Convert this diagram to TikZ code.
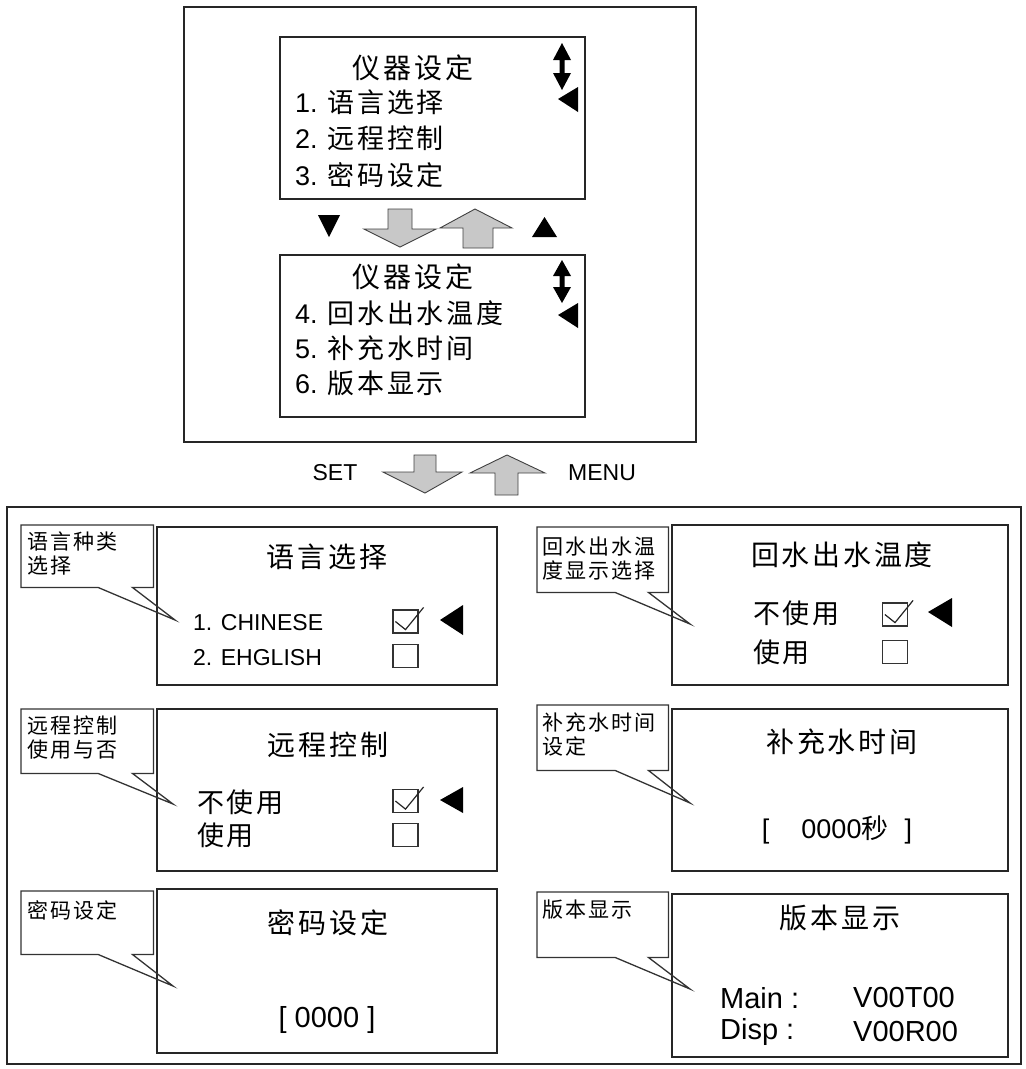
\documentclass[tikz,border=0pt]{standalone}
\usepackage{fontspec}
\setmainfont{Liberation Sans}
\newfontfamily\cjk[LetterSpace=10]{Noto Sans CJK SC}
\usepackage{xcolor}
\usepackage{tikz}
\usetikzlibrary{calc}

\definecolor{arrowgray}{RGB}{200,200,200}

\begin{document}
\begin{tikzpicture}[
    x=1pt, y=-1pt,
    outerframe/.style={
        draw=black!85,
        line width=1.8pt,
        inner sep=0pt
    },
    screen/.style={
        draw=black!85,
        line width=2pt,
        inner sep=0pt
    },
    scrtitle/.style={
        font=\fontsize{28}{32}\selectfont\cjk,
        inner sep=0pt
    },
    scritem/.style={
        font=\fontsize{27}{32}\selectfont,
        anchor=west,
        inner sep=0pt
    },
    latinitem/.style={
        font=\fontsize{23}{28}\selectfont,
        anchor=west,
        inner sep=0pt
    },
    cnitem/.style={
        font=\fontsize{27}{32}\selectfont\cjk,
        anchor=west,
        inner sep=0pt
    },
    readout/.style={
        font=\fontsize{29}{34}\selectfont,
        inner sep=0pt
    },
    keylabel/.style={
        font=\fontsize{23}{28}\selectfont,
        inner sep=0pt
    },
    tipbox/.style={
        inner sep=0pt,
        anchor=north west
    },
    tiptext/.style={
        font=\fontsize{21}{24}\selectfont\cjk,
        align=left,
        anchor=north west,
        inner sep=0pt
    },
    bubble/.style={
        draw=black!80,
        line width=1.3pt
    },
    chkbox/.style={
        draw=black!80,
        line width=1.2pt,
        minimum width=25pt,
        minimum height=23pt,
        inner sep=0pt
    },
    tick/.style={
        draw=black!85,
        line width=1.2pt
    },
    blockarrow/.style={
        fill=arrowgray,
        draw=black!75,
        line width=0.9pt
    }
]
\useasboundingbox (0,0) rectangle (1026,1069);

% =========================================================
% menu pages
% =========================================================
\node[outerframe, minimum width=512pt, minimum height=435pt] (menuframe) at (440,224.5) {};

\node[screen, minimum width=305pt, minimum height=162pt] (scrA) at (432.5,118) {};
\node[scrtitle] (scrAhead) at (413,68) {仪器设定};
\node[scritem] (scrA1) at (295,102) {1. {\cjk 语言选择}};
\node[scritem] (scrA2) at (295,138) {2. {\cjk 远程控制}};
\node[scritem] (scrA3) at (295,175) {3. {\cjk 密码设定}};

\node[screen, minimum width=305pt, minimum height=162pt] (scrB) at (432.5,336) {};
\node[scrtitle] (scrBhead) at (413,277) {仪器设定};
\node[scritem] (scrB4) at (295,313) {4. {\cjk 回水出水温度}};
\node[scritem] (scrB5) at (295,348) {5. {\cjk 补充水时间}};
\node[scritem] (scrB6) at (295,383) {6. {\cjk 版本显示}};

% scroll marks and cursors
\coordinate (scrAupdn) at (562,43);
\coordinate (scrBupdn) at (562,260);
\fill (scrAupdn) -- ++(9,17) -- ++(-6.5,0) -- ++(0,13) -- ++(6.5,0) -- ++(-9,17) -- ++(-9,-17) -- ++(6.5,0) -- ++(0,-13) -- ++(-6.5,0) -- cycle;
\fill (scrBupdn) -- ++(9,16) -- ++(-6.5,0) -- ++(0,11) -- ++(6.5,0) -- ++(-9,16) -- ++(-9,-16) -- ++(6.5,0) -- ++(0,-11) -- ++(-6.5,0) -- cycle;
\coordinate (scrAcur) at (558,99);
\coordinate (scrBcur) at (558,315);
\fill (scrAcur) -- ++(20,-12) -- ++(0,25) -- cycle;
\fill (scrBcur) -- ++(20,-12) -- ++(0,25) -- cycle;

% page keys
\fill (318,215) -- (340,215) -- (329,237) -- cycle;
\fill (532,237) -- (557,237) -- (544.5,217) -- cycle;
\draw[blockarrow, shift={(400,209)}] (-12,0) -- (12,0) -- (12,20) -- (36,20) -- (0,38) -- (-36,20) -- (-12,20) -- cycle;
\draw[blockarrow, shift={(478,248)}] (-15,0) -- (15,0) -- (15,-20) -- (34,-20) -- (-3,-39) -- (-38,-20) -- (-15,-20) -- cycle;

% =========================================================
% SET / MENU
% =========================================================
\node[keylabel] (setkey) at (335,473) {SET};
\node[keylabel] (menukey) at (602,473) {MENU};
\draw[blockarrow, shift={(425,455)}] (-11,0) -- (11,0) -- (11,17) -- (37,17) -- (0,38) -- (-42,17) -- (-11,17) -- cycle;
\draw[blockarrow, shift={(507,495)}] (-12,0) -- (11,0) -- (11,-22) -- (38,-22) -- (0,-40) -- (-37,-22) -- (-12,-22) -- cycle;

% =========================================================
% setting pages
% =========================================================
\node[outerframe, line width=1.5pt, minimum width=1014pt, minimum height=557pt] (panelframe) at (514,785.5) {};

% language
\node[screen, minimum width=340pt, minimum height=158pt] (langscr) at (327,606) {};
\node[scrtitle] (langhead) at (327,557) {语言选择};
\node[latinitem] (lang1) at (193,623) {1. CHINESE};
\node[latinitem] (lang2) at (193,658) {2. EHGLISH};
\node[chkbox] (langchk1) at (405.5,621.5) {};
\node[chkbox] (langchk2) at (405.5,656) {};
\draw[tick] ($(langchk1.west)+(3,0)$) -- ($(langchk1.south)+(0,-4)$) -- ($(langchk1.north east)+(5,-2)$);
\coordinate (langcur) at (440,620);
\fill (langcur) -- ++(23,-15) -- ++(0,30) -- cycle;

% remote control
\node[screen, minimum width=340pt, minimum height=162pt] (remotescr) at (327,790) {};
\node[scrtitle] (remotehead) at (328,745) {远程控制};
\node[cnitem] (remote1) at (197,802) {不使用};
\node[cnitem] (remote2) at (197,835) {使用};
\node[chkbox] (remotechk1) at (405.5,801) {};
\node[chkbox] (remotechk2) at (405.5,835) {};
\draw[tick] ($(remotechk1.west)+(3,0)$) -- ($(remotechk1.south)+(0,-4)$) -- ($(remotechk1.north east)+(5,-2)$);
\coordinate (remotecur) at (440,800);
\fill (remotecur) -- ++(23,-13) -- ++(0,26) -- cycle;

% password
\node[screen, minimum width=340pt, minimum height=164pt] (pwdscr) at (327,971) {};
\node[scrtitle] (pwdhead) at (328,923) {密码设定};
\node[readout] (pwdval) at (327,1020) {[ 0000 ]};

% water temperature
\node[screen, minimum width=336pt, minimum height=160pt] (tempscr) at (840,605) {};
\node[scrtitle] (temphead) at (842,555) {回水出水温度};
\node[cnitem] (temp1) at (753,613) {不使用};
\node[cnitem] (temp2) at (753,652) {使用};
\node[chkbox] (tempchk1) at (895,614.5) {};
\node[chkbox] (tempchk2) at (895,652) {};
\draw[tick] ($(tempchk1.west)+(3,0)$) -- ($(tempchk1.south)+(0,-4)$) -- ($(tempchk1.north east)+(5,-2)$);
\coordinate (tempcur) at (928,612);
\fill (tempcur) -- ++(24,-14) -- ++(0,29) -- cycle;

% refill time
\node[screen, minimum width=336pt, minimum height=162pt] (refillscr) at (840,790) {};
\node[scrtitle] (refillhead) at (842,742) {补充水时间};
\node[readout, font=\fontsize{27}{32}\selectfont] (refillval) at (837,830) {[\hspace{32pt}0000{\cjk 秒}\hspace{16pt}]};

% version
\node[screen, minimum width=336pt, minimum height=163pt] (verscr) at (840,975.5) {};
\node[scrtitle] (verhead) at (840,918) {版本显示};
\node[readout, anchor=west] (vermain) at (720,998) {Main :};
\node[readout, anchor=west] (vermainval) at (853,998) {V00T00};
\node[readout, anchor=west] (verdisp) at (720,1032) {Disp :};
\node[readout, anchor=west] (verdispval) at (853,1032) {V00R00};

% =========================================================
% callouts
% =========================================================
\node[tipbox, minimum width=132pt, minimum height=62pt] (langtipbox) at (21,525) {};
\node[tiptext] (langtiptext) at (27,532) {语言种类\\选择};
\coordinate (langtip) at (175,620);
\draw[bubble] (langtipbox.north west) -- (langtipbox.north east) -- (langtipbox.south east) -- ($(langtipbox.south east)+(-21,0)$) -- (langtip) -- ($(langtipbox.south west)+(77,0)$) -- (langtipbox.south west) -- cycle;

\node[tipbox, minimum width=132pt, minimum height=64pt] (remotetipbox) at (21,709) {};
\node[tiptext] (remotetiptext) at (27,716) {远程控制\\使用与否};
\coordinate (remotetip) at (173,804);
\draw[bubble] (remotetipbox.north west) -- (remotetipbox.north east) -- (remotetipbox.south east) -- ($(remotetipbox.south east)+(-21,0)$) -- (remotetip) -- ($(remotetipbox.south west)+(77,0)$) -- (remotetipbox.south west) -- cycle;

\node[tipbox, minimum width=132pt, minimum height=63pt] (pwdtipbox) at (21,891) {};
\node[tiptext] (pwdtiptext) at (27,900) {密码设定};
\coordinate (pwdtip) at (173,986);
\draw[bubble] (pwdtipbox.north west) -- (pwdtipbox.north east) -- (pwdtipbox.south east) -- ($(pwdtipbox.south east)+(-21,0)$) -- (pwdtip) -- ($(pwdtipbox.south west)+(77,0)$) -- (pwdtipbox.south west) -- cycle;

\node[tipbox, minimum width=131pt, minimum height=65pt] (temptipbox) at (537,527) {};
\node[tiptext] (temptiptext) at (542,537) {回水出水温\\度显示选择};
\coordinate (temptip) at (690,624);
\draw[bubble] (temptipbox.north west) -- (temptipbox.north east) -- (temptipbox.south east) -- ($(temptipbox.south east)+(-20,0)$) -- (temptip) -- ($(temptipbox.south west)+(78,0)$) -- (temptipbox.south west) -- cycle;

\node[tipbox, minimum width=131pt, minimum height=65pt] (refilltipbox) at (537,705) {};
\node[tiptext] (refilltiptext) at (542,713) {补充水时间\\设定};
\coordinate (refilltip) at (690,803);
\draw[bubble] (refilltipbox.north west) -- (refilltipbox.north east) -- (refilltipbox.south east) -- ($(refilltipbox.south east)+(-20,0)$) -- (refilltip) -- ($(refilltipbox.south west)+(78,0)$) -- (refilltipbox.south west) -- cycle;

\node[tipbox, minimum width=131pt, minimum height=65pt] (vertipbox) at (537,892) {};
\node[tiptext] (vertiptext) at (542,900) {版本显示};
\coordinate (vertip) at (690,989);
\draw[bubble] (vertipbox.north west) -- (vertipbox.north east) -- (vertipbox.south east) -- ($(vertipbox.south east)+(-20,0)$) -- (vertip) -- ($(vertipbox.south west)+(78,0)$) -- (vertipbox.south west) -- cycle;

\end{tikzpicture}
\end{document}
